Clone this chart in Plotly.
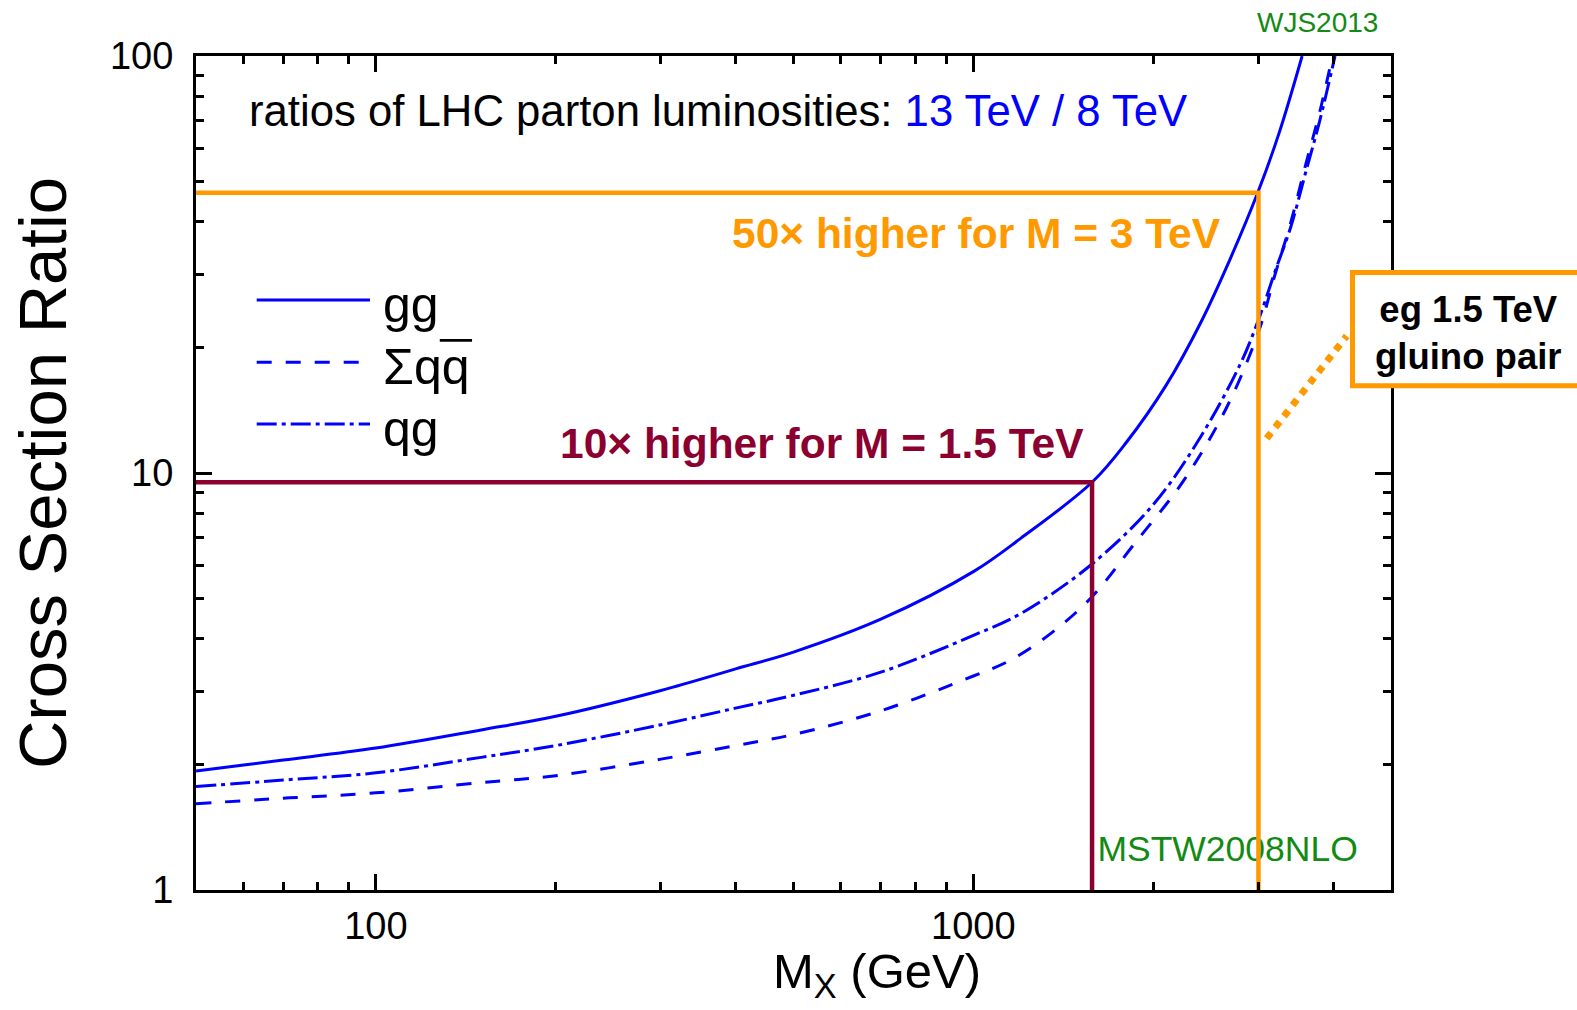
import plotly.graph_objects as go

# 13 TeV / 8 TeV LHC parton-luminosity ratios (MSTW2008NLO) vs. invariant mass M_X [GeV]
mass_gg = [50, 70, 100, 150, 200, 300, 400, 500, 700, 1000, 1200, 1580, 1800, 2100, 2400, 2700, 3000, 3250, 3550]
ratio_gg = [1.93, 2.05, 2.19, 2.42, 2.61, 3.01, 3.39, 3.72, 4.46, 5.8, 6.97, 9.5, 11.8, 16.2, 22.9, 33.0, 47.5, 65.5, 100.0]

mass_qqbar = [50, 70, 100, 150, 200, 300, 400, 500, 700, 1000, 1150, 1350, 1580, 1850, 2250, 2650, 3000, 3200, 3400, 3600, 3800, 3990]
ratio_qqbar = [1.61, 1.66, 1.71, 1.81, 1.88, 2.06, 2.22, 2.36, 2.69, 3.26, 3.55, 4.13, 5.05, 6.7, 9.6, 14.3, 21.8, 30.0, 40.0, 55.0, 73.5, 100.0]

mass_qg = [50, 70, 100, 150, 200, 300, 400, 500, 700, 1000, 1200, 1580, 2000, 2400, 2800, 3000, 3200, 3400, 3600, 3800, 4030]
ratio_qg = [1.77, 1.835, 1.91, 2.08, 2.22, 2.49, 2.73, 2.93, 3.33, 4.08, 4.6, 6.05, 8.4, 12.2, 18.3, 23.3, 30.5, 39.0, 52.7, 70.0, 100.0]

# Benchmark masses
highlight_mass = [1580, 3000]
highlight_ratio = [9.5, 47.0]
highlight_color = ["#8c0030", "#ff9900"]
highlight_label = ["10\u00d7 higher for M = 1.5 TeV", "50\u00d7 higher for M = 3 TeV"]

x_range = [50, 5000]
y_range = [1, 100]
x_major = [100, 1000]
x_minor = [60, 70, 80, 90, 200, 300, 400, 500, 600, 700, 800, 900, 2000, 3000, 4000]
y_major = [1, 10, 100]
y_minor = [2, 3, 4, 5, 6, 7, 8, 9, 20, 30, 40, 50, 60, 70, 80, 90]

FONT = "Liberation Sans, Arial, Helvetica, sans-serif"
BLUE = "#0000ff"
GREEN = "#138a13"
ORANGE = "#ff9900"
DASH_QQ = "15px,14px"
DASH_QG = "20px,5px,4px,5px"

fig = go.Figure()

fig.add_trace(go.Scatter(x=mass_gg, y=ratio_gg, mode="lines", name="gg",
                         line=dict(color=BLUE, width=3, shape="spline", smoothing=1.0)))
fig.add_trace(go.Scatter(x=mass_qqbar, y=ratio_qqbar, mode="lines", name="\u03a3qq\u0304",
                         line=dict(color=BLUE, width=3, dash=DASH_QQ, shape="spline", smoothing=1.0)))
fig.add_trace(go.Scatter(x=mass_qg, y=ratio_qg, mode="lines", name="qg",
                         line=dict(color=BLUE, width=3, dash=DASH_QG, shape="spline", smoothing=1.0)))

# PDF set tag, placed beneath the benchmark lines
fig.add_trace(go.Scatter(x=[1613], y=[1.235], mode="text", text=["MSTW2008NLO"],
                         textposition="middle right", cliponaxis=False,
                         textfont=dict(family=FONT, size=35.5, color=GREEN)))

# Benchmark lines: horizontal from the left axis, vertical down to the bottom axis
for m, r, c in zip(highlight_mass, highlight_ratio, highlight_color):
    fig.add_trace(go.Scatter(x=[x_range[0], m, m], y=[r, r, y_range[0]], mode="lines",
                             line=dict(color=c, width=4.5), cliponaxis=True))

annotations = []
shapes = []

# Custom legend
legend_y = [0.7074, 0.6327, 0.5588]
legend_dash = ["solid", DASH_QQ, DASH_QG]
legend_text = ["gg", "\u03a3qq", "qg"]
for yy, d, t in zip(legend_y, legend_dash, legend_text):
    shapes.append(dict(type="line", xref="paper", yref="paper", x0=0.0508, x1=0.1456, y0=yy, y1=yy,
                       line=dict(color=BLUE, width=3, dash=d)))
    annotations.append(dict(xref="paper", yref="paper", x=0.1550, y=yy - 0.006, text=t,
                            showarrow=False, xanchor="left", yanchor="middle",
                            font=dict(family=FONT, size=50, color="black")))
# bar over the antiquark
shapes.append(dict(type="line", xref="paper", yref="paper", x0=0.2040, x1=0.2310, y0=0.6591, y1=0.6591,
                   line=dict(color="black", width=2.7)))

# Title line
annotations.append(dict(xref="paper", yref="paper", x=0.0425, y=0.9350, xanchor="left", yanchor="middle",
                        showarrow=False,
                        text="ratios of LHC parton luminosities: <span style='color:#0000ff'>13 TeV / 8 TeV</span>",
                        font=dict(family=FONT, size=43.7, color="black")))

# Benchmark labels
annotations.append(dict(xref="paper", yref="paper", x=0.7450, y=0.5350, xanchor="right", yanchor="middle",
                        showarrow=False, text="<b>" + highlight_label[0] + "</b>",
                        font=dict(family=FONT, size=42.5, color=highlight_color[0])))
annotations.append(dict(xref="paper", yref="paper", x=0.8590, y=0.7869, xanchor="right", yanchor="middle",
                        showarrow=False, text="<b>" + highlight_label[1] + "</b>",
                        font=dict(family=FONT, size=42.5, color=highlight_color[1])))

# Gluino call-out
shapes.append(dict(type="line", xref="paper", yref="paper", x0=0.896, y0=0.5416, x1=0.9629, y1=0.6643,
                   line=dict(color=ORANGE, width=7, dash="dot")))
shapes.append(dict(type="rect", xref="paper", yref="paper", x0=0.9678, x1=1.25, y0=0.6046, y1=0.7404,
                   line=dict(color=ORANGE, width=5), fillcolor="white", layer="above"))
annotations.append(dict(xref="paper", yref="paper", x=1.0650, y=0.6680, xanchor="center", yanchor="middle",
                        showarrow=False, text="<b>eg 1.5 TeV<br>gluino pair</b>",
                        font=dict(family=FONT, size=36.5, color="black")))

# Author tag
annotations.append(dict(xref="paper", yref="paper", x=0.8860, y=1.0400, xanchor="left", yanchor="middle",
                        showarrow=False, text="WJS2013",
                        font=dict(family=FONT, size=28, color=GREEN)))

# x-axis title, set right of centre
annotations.append(dict(xref="paper", yref="paper", x=0.570, y=-0.101, xanchor="center", yanchor="middle",
                        showarrow=False, text="M<sub>X</sub> (GeV)",
                        font=dict(family=FONT, size=49, color="black")))

axis_common = dict(
    type="log", showgrid=False, zeroline=False,
    showline=True, linecolor="black", linewidth=3, mirror="ticks",
    ticks="inside", ticklen=16, tickwidth=2.5, tickcolor="black",
    tickfont=dict(family=FONT, size=38, color="black"),
)

fig.update_layout(
    width=1577, height=1010,
    margin=dict(l=196, r=186, t=56, b=120, autoexpand=False),
    paper_bgcolor="white", plot_bgcolor="white",
    showlegend=False,
    xaxis=dict(axis_common, range=[1.69897, 3.69897], tickmode="array", tickvals=x_major,
               ticktext=[str(v) for v in x_major], ticklabelstandoff=0,
               minor=dict(tickmode="array", tickvals=x_minor, ticklen=8, tickwidth=2.5,
                          tickcolor="black", ticks="inside")),
    yaxis=dict(axis_common, range=[0, 2], tickmode="array", tickvals=y_major,
               ticktext=[str(v) for v in y_major], ticklabelstandoff=12,
               minor=dict(tickmode="array", tickvals=y_minor, ticklen=8, tickwidth=2.5,
                          tickcolor="black", ticks="inside"),
               title=dict(text="Cross Section Ratio", standoff=22,
                          font=dict(family=FONT, size=67, color="black"))),
    annotations=annotations,
    shapes=shapes,
)

fig.write_html("out.html")
